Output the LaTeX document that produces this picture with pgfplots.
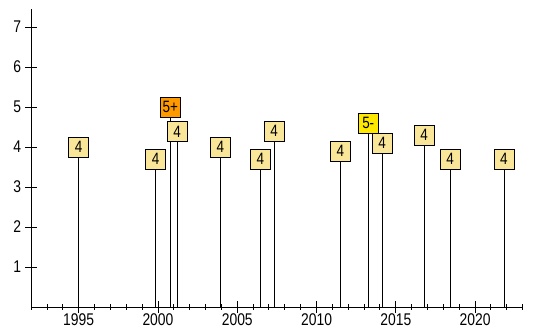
\documentclass[border=0pt]{standalone}
\usepackage{pgfplots}
\pgfplotsset{compat=1.18}
\usepackage{pgfplotstable}
\usepackage{graphicx}
\usepackage{fontspec}
\setmainfont{Liberation Sans}
\definecolor{pale}{RGB}{250,230,152}
\definecolor{orng}{RGB}{255,153,0}
\definecolor{ylw}{RGB}{255,232,0}
\pgfplotstableread{
x y label
1995.00 4.00 4
1999.86 3.70 4
2001.21 4.39 4
2003.93 4.00 4
2006.45 3.70 4
2007.33 4.40 4
2011.50 3.90 4
2014.14 4.10 4
2016.79 4.30 4
2018.43 3.70 4
2021.82 3.70 4
}\fours
\pgfplotstableread{
x y label
2000.78 5.00 5+
}\fiveplus
\pgfplotstableread{
x y label
2013.26 4.60 5-
}\fiveminus
\pgfplotstableread{
x y
1995.00 4.00
1999.86 3.70
2000.78 5.00
2001.21 4.39
2003.93 4.00
2006.45 3.70
2007.33 4.40
2011.50 3.90
2013.26 4.60
2014.14 4.10
2016.79 4.30
2018.43 3.70
2021.82 3.70
}\stems
\begin{document}
\begin{tikzpicture}
\useasboundingbox (-31.1bp,-26bp) rectangle (501.9bp,307bp);
\begin{axis}[
  at={(0,0)}, anchor=origin,
  scale only axis,
  width=491.6bp, height=298bp,
  xmin=1992, xmax=2023, ymin=0, ymax=7.45,
  axis x line=bottom, axis y line=left,
  axis line style={-, line width=0.9bp},
  xtick={1995,2000,...,2020},
  minor xtick={1992,...,2023},
  ytick={1,...,7},
  tick align=center,
  major tick length=12bp,
  minor tick length=5bp,
  tick style={black, line width=0.9bp},
  xticklabel={\scalebox{0.82}[1]{\pgfmathprintnumber[1000 sep={}]{\tick}}},
  yticklabel={\scalebox{0.82}[1]{\pgfmathprintnumber{\tick}}},
  xticklabel style={yshift=2.5bp},
  yticklabel style={xshift=-0.5bp},
  /pgf/number format/assume math mode=true,
  tick label style={font=\fontsize{17}{19}\selectfont},
  clip=false,
  every node near coord/.append style={anchor=center, draw=black, line width=0.8bp,
     minimum width=20bp, minimum height=20bp, inner sep=0pt, text=black,
     font=\fontsize{16.5}{18}\selectfont},
]
\addplot[ycomb, black, line width=0.8bp, mark=none] table[x=x,y=y] {\stems};
\addplot[draw=none, mark=none, nodes near coords={\scalebox{0.82}[1]{\pgfplotspointmeta}}, point meta=explicit symbolic,
  every node near coord/.append style={fill=orng}] table[x=x,y=y,meta=label] {\fiveplus};
\addplot[draw=none, mark=none, nodes near coords={\scalebox{0.82}[1]{\pgfplotspointmeta}}, point meta=explicit symbolic,
  every node near coord/.append style={fill=ylw}] table[x=x,y=y,meta=label] {\fiveminus};
\addplot[draw=none, mark=none, nodes near coords={\scalebox{0.82}[1]{\pgfplotspointmeta}}, point meta=explicit symbolic,
  every node near coord/.append style={fill=pale}] table[x=x,y=y,meta=label] {\fours};
\end{axis}
\end{tikzpicture}
\end{document}
